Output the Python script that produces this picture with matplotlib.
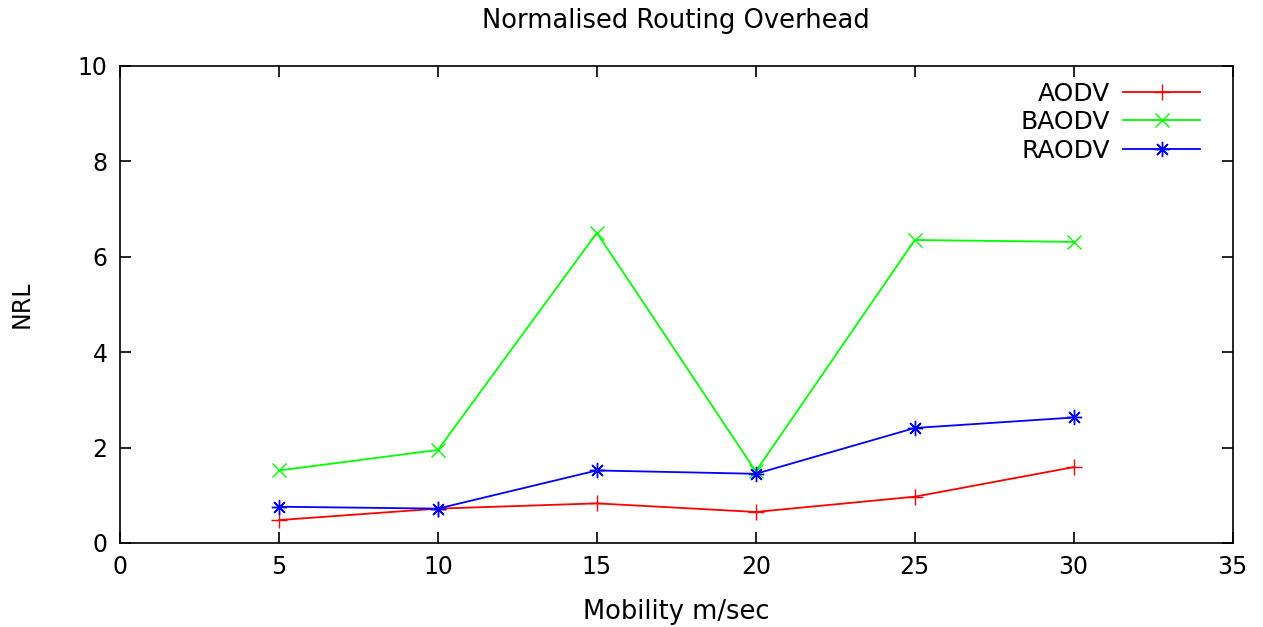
import numpy as np
import matplotlib.pyplot as plt

# mobility speeds (m/sec)
mobility = [5, 10, 15, 20, 25, 30]

# normalised routing load per protocol
aodv = [0.48, 0.72, 0.83, 0.65, 0.97, 1.59]
baodv = [1.52, 1.95, 6.50, 1.50, 6.35, 6.31]
raodv = [0.76, 0.72, 1.52, 1.45, 2.41, 2.63]

plt.rcParams['font.family'] = ['DejaVu Sans']

fig = plt.figure(figsize=(12.63, 6.27), dpi=100)
ax = fig.add_axes([0.095, 0.134, 0.881, 0.761])

ax.plot(mobility, aodv, color='#ff0000', marker='+', markersize=11, lw=1.3, label='AODV')
ax.plot(mobility, baodv, color='#00ff00', marker='x', markersize=10, lw=1.3, label='BAODV')
ax.plot(mobility, raodv, color='#0000ff', marker=(8, 2, 0), markersize=11, lw=1.3, label='RAODV')

ax.set_xlim(0, 35)
ax.set_ylim(0, 10)
ax.set_xticks(np.arange(0, 36, 5))
ax.set_yticks(np.arange(0, 11, 2))
ax.tick_params(direction='in', top=True, right=True, length=8, width=1.2, labelsize=17, pad=9)
for s in ax.spines.values():
    s.set_linewidth(1.2)

ax.set_title('Normalised Routing Overhead', fontsize=18.5, pad=27)
ax.set_xlabel('Mobility m/sec', fontsize=18.5, labelpad=14)
ax.set_ylabel('NRL', fontsize=17, labelpad=32)

leg = ax.legend(loc='upper right', frameon=False, markerfirst=False, fontsize=18,
                handlelength=3.1, handletextpad=0.5, labelspacing=0.18,
                borderaxespad=0, bbox_to_anchor=(0.98, 0.988))
for t in leg.get_texts():
    t.set_ha('right')

fig.savefig('out.png', dpi=100)
